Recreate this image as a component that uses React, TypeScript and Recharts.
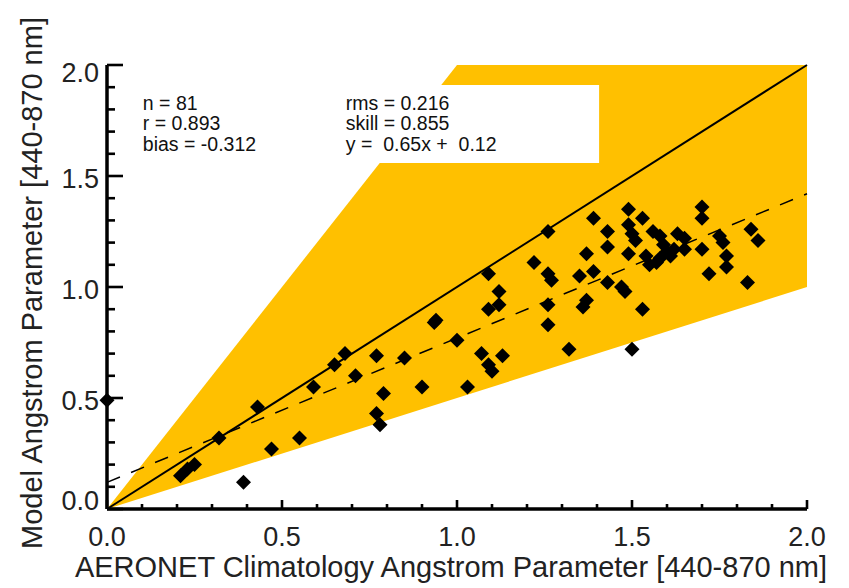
import React from 'react';
import { ComposedChart, XAxis, YAxis, Area, Line, Scatter, ReferenceArea } from 'recharts';

const FONT = '"Liberation Sans", Arial, Helvetica, sans-serif';

const xMajorTicks = [0, 0.5, 1.0, 1.5, 2.0];
const xTickLabels = ['0.0', '0.5', '1.0', '1.5', '2.0'];
const xMinorTicks = [0.1, 0.2, 0.3, 0.4, 0.6, 0.7, 0.8, 0.9, 1.1, 1.2, 1.3, 1.4, 1.6, 1.7, 1.8, 1.9];
const yMajorTicks = [0, 0.5, 1.0, 1.5, 2.0];
const yTickLabels = ['0.0', '0.5', '1.0', '1.5', '2.0'];
const yMinorTicks = [0.1, 0.2, 0.3, 0.4, 0.6, 0.7, 0.8, 0.9, 1.1, 1.2, 1.3, 1.4, 1.6, 1.7, 1.8, 1.9];

const xTitle = 'AERONET Climatology Angstrom Parameter [440-870 nm]';
const yTitle = 'Model Angstrom Parameter [440-870 nm]';

const statsLeft = ['n = 81', 'r = 0.893', 'bias = -0.312'];
const statsRight = ['rms = 0.216', 'skill = 0.855', 'y =  0.65x +  0.12'];

// shaded envelope between y = 0.5x and y = 2x (clipped at 2.0)
const envelope = [
  { x: 0, band: [0, 0] },
  { x: 1, band: [0.5, 2] },
  { x: 2, band: [1, 2] },
];

const oneToOne = [
  { x: 0, y: 0 },
  { x: 2, y: 2 },
];

const fitLine = [
  { x: 0, y: 0.12 },
  { x: 2, y: 1.42 },
];

const aeronetX = [
  0.00, 0.21, 0.23, 0.25, 0.32, 0.39, 0.43, 0.47, 0.55, 0.59,
  0.65, 0.68, 0.71, 0.77, 0.77, 0.78, 0.79, 0.85, 0.90, 0.94,
  0.935, 1.00, 1.03, 1.07, 1.09, 1.10, 1.13, 1.09, 1.12, 1.12,
  1.09, 1.22, 1.26, 1.26, 1.27, 1.26, 1.26, 1.32, 1.35, 1.37,
  1.39, 1.39, 1.37, 1.36, 1.43, 1.43, 1.43, 1.47, 1.48, 1.53,
  1.50, 1.49, 1.53, 1.49, 1.50, 1.51, 1.49, 1.54, 1.56, 1.58,
  1.59, 1.57, 1.58, 1.61, 1.63, 1.65, 1.65, 1.70, 1.70, 1.70,
  1.72, 1.75, 1.76, 1.77, 1.77, 1.84, 1.86, 1.83, 1.60, 1.55,
  1.62,
];
const modelY = [
  0.49, 0.15, 0.18, 0.20, 0.32, 0.12, 0.46, 0.27, 0.32, 0.55,
  0.65, 0.70, 0.60, 0.69, 0.43, 0.38, 0.52, 0.68, 0.55, 0.85,
  0.84, 0.76, 0.55, 0.70, 0.65, 0.62, 0.69, 1.06, 0.98, 0.92,
  0.90, 1.11, 1.25, 1.06, 1.03, 0.92, 0.83, 0.72, 1.05, 1.15,
  1.07, 1.31, 0.94, 0.91, 1.25, 1.18, 1.02, 1.00, 0.98, 0.90,
  0.72, 1.35, 1.31, 1.28, 1.24, 1.21, 1.15, 1.14, 1.25, 1.23,
  1.19, 1.11, 1.13, 1.14, 1.24, 1.22, 1.17, 1.36, 1.31, 1.17,
  1.06, 1.23, 1.20, 1.14, 1.09, 1.26, 1.21, 1.02, 1.16, 1.10,
  1.17,
];

const points = aeronetX.map((x, i) => ({ x, y: modelY[i] }));

const isMajor = (v: number) => Math.abs(v * 2 - Math.round(v * 2)) < 1e-6;
const labelFor = (v: number, majors: number[], labels: string[]) => {
  const idx = majors.findIndex((m) => Math.abs(m - v) < 1e-6);
  return idx >= 0 ? labels[idx] : '';
};

const XTick = (props: any) => {
  const { x, y, payload } = props;
  const v = payload.value as number;
  const major = isMajor(v);
  return (
    <g>
      <line x1={x} x2={x} y1={y} y2={y - (major ? 9 : 5)} stroke="#000" strokeWidth={2.6} />
      {major && (
        <text x={x} y={y + 37} textAnchor="middle" fontSize={27} fontFamily={FONT} fill="#222">
          {labelFor(v, xMajorTicks, xTickLabels)}
        </text>
      )}
    </g>
  );
};

const YTick = (props: any) => {
  const { x, y, payload } = props;
  const v = payload.value as number;
  const major = isMajor(v);
  const dy = v >= 2 ? 17 : v <= 0 ? 1 : 12;
  return (
    <g>
      <line x1={x} x2={x + (major ? 16 : 8)} y1={y} y2={y} stroke="#000" strokeWidth={2.6} />
      {major && (
        <text x={x - 8} y={y + dy} textAnchor="end" fontSize={27} fontFamily={FONT} fill="#222">
          {labelFor(v, yMajorTicks, yTickLabels)}
        </text>
      )}
    </g>
  );
};

const XTitle = (props: any) => {
  const vb = props.viewBox || { x: 107, y: 509, width: 700, height: 40 };
  return (
    <text x={vb.x + vb.width / 2 - 6} y={vb.y + 68} textAnchor="middle" fontSize={29} fontFamily={FONT} fill="#222">
      {xTitle}
    </text>
  );
};

const YTitle = (props: any) => {
  const vb = props.viewBox || { x: 47, y: 65, width: 60, height: 444 };
  const cx = vb.x - 5;
  const cy = vb.y + vb.height / 2 - 4;
  return (
    <text x={cx} y={cy} transform={`rotate(-90 ${cx} ${cy})`} textAnchor="middle" fontSize={29} fontFamily={FONT} fill="#222">
      {yTitle}
    </text>
  );
};

const StatsLabel = (props: any) => {
  const vb = props.viewBox || { x: 335, y: 85, width: 264, height: 78 };
  const lineY = [25, 45.5, 66];
  return (
    <g fontSize={19.5} fontFamily={FONT} fill="#111" style={{ whiteSpace: 'pre' }}>
      {statsLeft.map((s, i) => (
        <text key={'l' + i} x={vb.x - 192} y={vb.y + lineY[i]} style={{ whiteSpace: 'pre' }}>
          {s}
        </text>
      ))}
      {statsRight.map((s, i) => (
        <text key={'r' + i} x={vb.x + 11} y={vb.y + lineY[i]} style={{ whiteSpace: 'pre' }}>
          {s}
        </text>
      ))}
    </g>
  );
};

const Diamond = (props: any) => {
  const { cx, cy } = props;
  if (cx == null || cy == null) return null;
  const r = 7.5;
  return <polygon points={`${cx},${cy - r} ${cx + r},${cy} ${cx},${cy + r} ${cx - r},${cy}`} fill="#000" />;
};

export default function App() {
  return (
    <div style={{ position: 'absolute', left: 0, top: 0, width: 849, height: 588, background: '#fff' }}>
      <ComposedChart width={849} height={588} margin={{ top: 65, right: 42, bottom: 39, left: 47 }}>
        <XAxis
          type="number"
          dataKey="x"
          domain={[0, 2]}
          ticks={[...xMajorTicks, ...xMinorTicks].sort((a, b) => a - b)}
          interval={0}
          tickSize={0}
          tickMargin={0}
          tickLine={false}
          tick={<XTick />}
          axisLine={{ stroke: '#000', strokeWidth: 3.5 }}
          height={40}
          label={<XTitle />}
        />
        <YAxis
          type="number"
          domain={[0, 2]}
          ticks={[...yMajorTicks, ...yMinorTicks].sort((a, b) => a - b)}
          interval={0}
          tickSize={0}
          tickMargin={0}
          tickLine={false}
          tick={<YTick />}
          axisLine={{ stroke: '#000', strokeWidth: 3.5 }}
          width={60}
          label={<YTitle />}
        />
        <Area
          data={envelope}
          dataKey="band"
          type="linear"
          fill="#FFC000"
          fillOpacity={1}
          stroke="none"
          isAnimationActive={false}
          activeDot={false}
          dot={false}
        />
        <ReferenceArea
          x1={0.651}
          x2={1.406}
          y1={1.559}
          y2={1.91}
          fill="#fff"
          fillOpacity={1}
          stroke="none"
          ifOverflow="visible"
          label={<StatsLabel />}
        />
        <Line data={oneToOne} dataKey="y" stroke="#000" strokeWidth={2} dot={false} activeDot={false} isAnimationActive={false} />
        <Line
          data={fitLine}
          dataKey="y"
          stroke="#000"
          strokeWidth={1.5}
          strokeDasharray="14 12"
          dot={false}
          activeDot={false}
          isAnimationActive={false}
        />
        <Scatter data={points} dataKey="y" shape={<Diamond />} isAnimationActive={false} />
      </ComposedChart>
    </div>
  );
}
